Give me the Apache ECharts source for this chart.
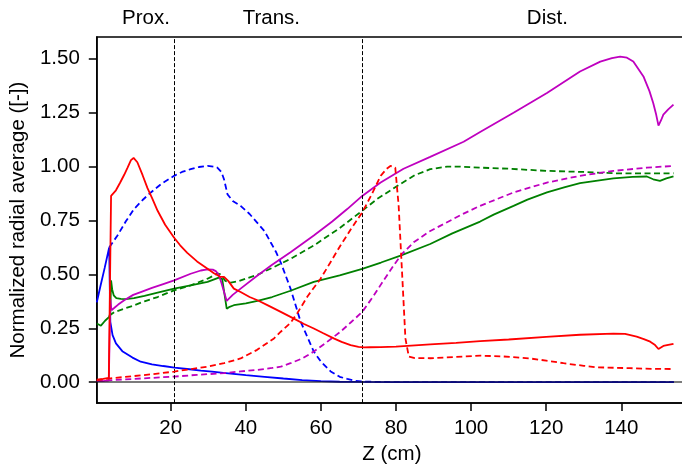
<!DOCTYPE html>
<html>
<head>
<meta charset="utf-8">
<script src="https://cdn.jsdelivr.net/npm/echarts@6/dist/echarts.min.js"></script>
<style>
html,body{margin:0;padding:0;overflow:hidden;background:#fff;}
#chart{width:700px;height:470px;}
</style>
</head>
<body>
<div id="chart"></div>
<script>
// ---- data ----
const xTicks = [20, 40, 60, 80, 100, 120, 140];
const yTicks = [0, 0.25, 0.5, 0.75, 1.0, 1.25, 1.5];
const regionBounds = [21, 71];
const regionNames = ['Prox.', 'Trans.', 'Dist.'];
const regionNameX = [13.4, 46.8, 120.3];

// blue solid
const blueSolidX = [0.3, 1.2, 2.4, 3.6, 3.75, 3.9, 4.5, 5.4, 7.2, 9.8, 12, 15, 18, 21, 25, 28, 31, 34, 36, 40, 45, 50, 55, 60, 65, 70, 80, 100, 120, 140, 154];
const blueSolidY = [0.37, 0.44, 0.53, 0.625, 0.45, 0.28, 0.218, 0.18, 0.142, 0.114, 0.095, 0.083, 0.075, 0.068, 0.060, 0.054, 0.049, 0.043, 0.040, 0.033, 0.025, 0.017, 0.010, 0.005, 0.002, 0.001, 0, 0, 0, 0, 0];
// blue dashed
const blueDashX = [3.6, 5.8, 8, 10.2, 12.5, 14.7, 17.5, 20.9, 23, 25.3, 27.5, 29.8, 31.5, 32.4, 33.5, 34.2, 35.1, 36.5, 38.6, 41, 43, 45, 46.6, 48, 49.3, 51.9, 54.6, 58.1, 60, 62.6, 65, 67, 69, 71, 80, 100, 120, 140, 154];
const blueDashY = [0.625, 0.68, 0.745, 0.803, 0.845, 0.88, 0.92, 0.957, 0.975, 0.988, 0.998, 1.003, 1.0, 0.995, 0.975, 0.94, 0.872, 0.84, 0.818, 0.78, 0.74, 0.70, 0.649, 0.605, 0.555, 0.434, 0.28, 0.142, 0.095, 0.05, 0.025, 0.015, 0.007, 0.003, 0, 0, 0, 0, 0];
// red solid
const redSolidX = [0.3, 2, 3.5, 3.9, 4.1, 5.4, 6.5, 7.6, 8.5, 9.4, 10.1, 11.1, 12.5, 13.8, 15, 16.5, 18.5, 20.9, 22.5, 24.4, 27, 29.8, 31.5, 33.3, 34.2, 34.6, 35.3, 36.8, 38.6, 41, 43.1, 46, 49.3, 52.8, 55.5, 58.1, 60.5, 63.4, 65.5, 67.9, 70, 71.5, 73, 75.9, 80, 89.1, 96, 102.4, 110, 120, 129, 137.9, 141, 144.1, 146, 147.7, 149, 149.9, 151.2, 152.5, 153.9];
const redSolidY = [0.012, 0.015, 0.02, 0.025, 0.864, 0.89, 0.925, 0.962, 0.995, 1.03, 1.04, 1.02, 0.96, 0.90, 0.855, 0.795, 0.73, 0.67, 0.635, 0.6, 0.56, 0.526, 0.505, 0.488, 0.488, 0.492, 0.47, 0.434, 0.418, 0.395, 0.38, 0.355, 0.326, 0.295, 0.27, 0.249, 0.228, 0.203, 0.187, 0.172, 0.164, 0.161, 0.162, 0.163, 0.165, 0.175, 0.182, 0.19, 0.198, 0.21, 0.22, 0.225, 0.224, 0.211, 0.2, 0.188, 0.172, 0.154, 0.168, 0.173, 0.178];
// red dashed
const redDashX = [0.3, 4, 10, 15, 20.9, 25, 29.8, 34.2, 38.6, 43, 47.5, 49.3, 51.9, 53.7, 56.5, 59.9, 62.5, 65.2, 68, 71, 73.5, 75.9, 77.5, 78.5, 79.8, 80.7, 81.6, 82.5, 83.4, 85, 89.1, 98, 102.4, 108, 115.7, 120, 124.6, 130, 133.5, 142.3, 148, 153.9];
const redDashY = [0.01, 0.018, 0.028, 0.037, 0.049, 0.06, 0.072, 0.088, 0.11, 0.15, 0.203, 0.234, 0.275, 0.32, 0.40, 0.48, 0.555, 0.634, 0.71, 0.788, 0.87, 0.957, 0.99, 1.003, 0.995, 0.818, 0.511, 0.203, 0.119, 0.112, 0.111, 0.119, 0.123, 0.12, 0.11, 0.10, 0.088, 0.076, 0.069, 0.065, 0.062, 0.061];
// green solid
const greenSolidX = [0.3, 1.4, 2.5, 3.6, 3.9, 4.1, 4.4, 4.8, 5.5, 6.7, 8, 10.2, 13, 16.5, 20.9, 25.3, 29.8, 32.8, 33.7, 34.3, 34.9, 35.5, 36.8, 40, 43.1, 47, 51.9, 58.1, 65, 71, 76, 81.2, 89.1, 95, 102.4, 106, 111.3, 115, 120.2, 125, 129, 137.9, 143, 146.8, 148.5, 150.3, 152, 153.9];
const greenSolidY = [0.272, 0.262, 0.285, 0.303, 0.32, 0.472, 0.43, 0.403, 0.39, 0.386, 0.385, 0.39, 0.40, 0.415, 0.434, 0.449, 0.465, 0.485, 0.478, 0.41, 0.341, 0.348, 0.357, 0.366, 0.377, 0.395, 0.424, 0.465, 0.495, 0.526, 0.555, 0.587, 0.641, 0.69, 0.745, 0.777, 0.818, 0.847, 0.88, 0.905, 0.923, 0.945, 0.952, 0.954, 0.941, 0.934, 0.945, 0.955];
// green dashed
const greenDashX = [3.6, 5, 7.6, 10, 13, 16.5, 20.9, 25.3, 29.8, 31.5, 32.4, 33.2, 33.7, 34.5, 36, 38, 40, 43.1, 47, 51.9, 58.1, 65, 71, 75, 80.3, 85, 89.1, 93.6, 97, 102.4, 110, 120.2, 130, 137.9, 146, 153.9];
const greenDashY = [0.308, 0.325, 0.341, 0.355, 0.375, 0.395, 0.426, 0.449, 0.48, 0.495, 0.505, 0.5, 0.49, 0.47, 0.462, 0.468, 0.48, 0.498, 0.53, 0.572, 0.634, 0.715, 0.795, 0.85, 0.91, 0.96, 0.988, 1.0, 1.0, 0.995, 0.99, 0.98, 0.975, 0.969, 0.968, 0.969];
// magenta solid
const magentaSolidX = [0.3, 2, 3.5, 3.7, 3.9, 4.2, 5, 6, 7.6, 10, 12, 15, 18, 20.9, 25.3, 28, 29.8, 31.2, 32, 32.8, 33.5, 34.2, 34.9, 36.5, 38.6, 43.1, 47, 51.9, 58.1, 63, 67, 71, 75.9, 82, 89.1, 98, 102.4, 111.3, 120.2, 129, 134.4, 137.5, 139.7, 141.5, 143.2, 145.9, 147.5, 148.5, 149.3, 149.9, 150.6, 151.2, 152.5, 153.9];
const magentaSolidY = [0.005, 0.005, 0.008, 0.01, 0.385, 0.334, 0.345, 0.36, 0.38, 0.405, 0.418, 0.437, 0.455, 0.472, 0.503, 0.518, 0.523, 0.522, 0.515, 0.498, 0.46, 0.418, 0.377, 0.405, 0.434, 0.495, 0.545, 0.603, 0.68, 0.745, 0.803, 0.864, 0.926, 0.99, 1.045, 1.115, 1.16, 1.25, 1.341, 1.441, 1.487, 1.503, 1.51, 1.505, 1.487, 1.418, 1.35, 1.295, 1.24, 1.19, 1.215, 1.241, 1.265, 1.287];
// magenta dashed
const magentaDashX = [0.3, 5, 10, 15, 20.9, 27, 34.2, 38.6, 43.1, 47, 49.3, 51.9, 55, 58.1, 61.5, 65.2, 68, 71, 74, 77, 79.5, 81.6, 84.7, 89, 93.6, 98, 102.4, 111.3, 120.2, 129, 137.9, 146.8, 153.9];
const magentaDashY = [0.005, 0.01, 0.015, 0.02, 0.026, 0.034, 0.042, 0.05, 0.057, 0.066, 0.072, 0.088, 0.11, 0.142, 0.185, 0.234, 0.278, 0.326, 0.40, 0.48, 0.545, 0.595, 0.649, 0.70, 0.742, 0.782, 0.818, 0.88, 0.926, 0.957, 0.98, 0.995, 1.003];

// ---- chart ----
const FONT = 'Liberation Sans, Arial, sans-serif';
const FS = 20.5;
const pair = (xs, ys) => xs.map((x, i) => [x, ys[i]]);
const DASH = [6, 3.5];
function line(name, xs, ys, color, dashed, z) {
  return {
    name, type: 'line', data: pair(xs, ys), showSymbol: false, symbol: 'none',
    lineStyle: { color, width: 1.8, type: dashed ? DASH : 'solid' },
    xAxisIndex: 0, yAxisIndex: 0, z: z, silent: true, animation: false
  };
}

const chart = echarts.init(document.getElementById('chart'), null, { renderer: 'canvas' });
const XMIN = 0.3, XMAX = 157.5, YMIN = -0.097, YMAX = 1.601;
chart.setOption({
  animation: false,
  backgroundColor: '#fff',
  grid: { left: 96, top: 37, width: 591, height: 368, show: true, borderColor: '#000', borderWidth: 1.5, backgroundColor: 'transparent' },
  xAxis: [{
    type: 'value', min: XMIN, max: XMAX, position: 'bottom',
    name: 'Z (cm)', nameLocation: 'middle', nameGap: 39,
    nameTextStyle: { fontFamily: FONT, fontSize: FS, color: '#000' },
    axisLine: { show: true, onZero: false, lineStyle: { color: '#000', width: 1.5 } },
    axisTick: { show: true, inside: false, length: 8, lineStyle: { color: '#000', width: 1.5 }, customValues: xTicks },
    axisLabel: { show: true, margin: 15, fontFamily: FONT, fontSize: FS, color: '#000', customValues: xTicks, formatter: v => String(Math.round(v)) },
    splitLine: { show: false }
  }, {
    type: 'value', min: XMIN, max: XMAX, position: 'top',
    axisLine: { show: false }, axisTick: { show: false },
    axisLabel: { show: true, margin: 8, fontFamily: FONT, fontSize: FS, color: '#000', customValues: regionNameX,
      formatter: v => { let best = 0; regionNameX.forEach((x, i) => { if (Math.abs(x - v) < Math.abs(regionNameX[best] - v)) best = i; }); return regionNames[best]; } },
    splitLine: { show: false }
  }],
  yAxis: [{
    type: 'value', min: YMIN, max: YMAX,
    name: 'Normalized radial average ([-])', nameLocation: 'middle', nameGap: 64, nameRotate: 90,
    nameTextStyle: { fontFamily: FONT, fontSize: FS, color: '#000' },
    axisLine: { show: true, onZero: false, lineStyle: { color: '#000', width: 1.5 } },
    axisTick: { show: true, inside: false, length: 8, lineStyle: { color: '#000', width: 1.5 }, customValues: yTicks },
    axisLabel: { show: true, margin: 17, fontFamily: FONT, fontSize: FS, color: '#000', customValues: yTicks, formatter: v => v.toFixed(2) },
    splitLine: { show: false }
  }],
  series: [
    {
      name: 'bounds', type: 'line', data: [], z: 1, silent: true,
      markLine: { silent: true, symbol: 'none', animation: false, label: { show: false },
        lineStyle: { color: '#000', width: 1, type: [4, 2] },
        data: regionBounds.map(b => ({ xAxis: b })) }
    },
    line('blue', blueSolidX, blueSolidY, '#0000ff', false, 2),
    line('blue dashed', blueDashX, blueDashY, '#0000ff', true, 2),
    line('green', greenSolidX, greenSolidY, '#008000', false, 3),
    line('green dashed', greenDashX, greenDashY, '#008000', true, 3),
    line('magenta', magentaSolidX, magentaSolidY, '#bf00bf', false, 4),
    line('magenta dashed', magentaDashX, magentaDashY, '#bf00bf', true, 4),
    line('red', redSolidX, redSolidY, '#ff0000', false, 5),
    line('red dashed', redDashX, redDashY, '#ff0000', true, 5),
    {
      name: 'zero', type: 'line', data: [], z: 10, silent: true,
      markLine: { silent: true, symbol: 'none', animation: false, label: { show: false },
        lineStyle: { color: 'rgba(20,20,20,0.75)', width: 1.6, type: 'solid' },
        data: [{ yAxis: 0 }] }
    }
  ]
});
</script>
</body>
</html>
